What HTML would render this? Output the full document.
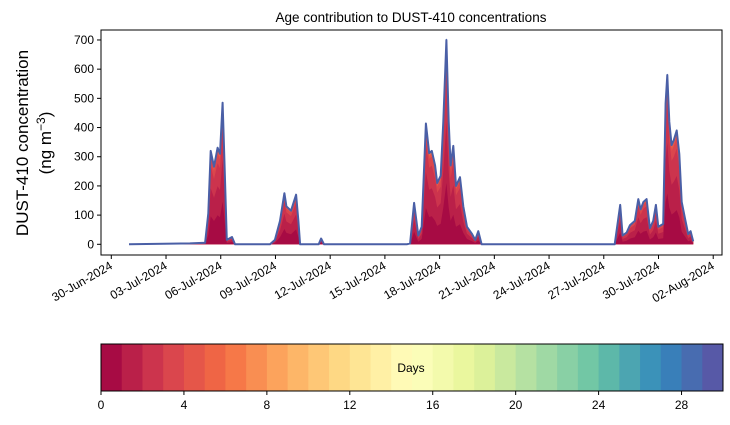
<!DOCTYPE html>
<html><head><meta charset="utf-8"><style>
body{margin:0;background:#fff;}
svg{display:block;font-family:"Liberation Sans","DejaVu Sans",sans-serif;}
</style></head><body>
<svg id="chart" width="730" height="425" viewBox="0 0 730 425"></svg>
<script>
// data: total concentration keypoints (day offset from 30-Jun-2024 00:00, ng m-3)
const days = [0.97,4.31,5.14,5.32,5.45,5.63,5.83,5.96,6.1,6.2,6.33,6.62,6.78,8.7,8.97,9.25,9.49,9.6,9.85,10.13,10.26,10.35,11.37,11.5,11.66,16.2,16.38,16.6,16.83,17.02,17.25,17.43,17.57,17.75,17.87,18.06,18.2,18.37,18.5,18.6,18.75,18.9,19.12,19.3,19.5,19.78,19.95,20.12,20.3,27.6,27.9,28.03,28.25,28.43,28.7,28.89,29.02,29.17,29.35,29.53,29.71,29.86,29.99,30.26,30.39,30.48,30.59,30.72,30.84,31.0,31.14,31.27,31.45,31.63,31.76,31.9];
const totals = [0,3,5,106,320,266,331,310,485,290,15,25,0,0,15,80,175,130,115,170,80,0,0,20,0,0,3,142,30,60,414,312,320,270,210,235,420,700,420,270,337,200,230,130,60,35,15,45,0,0,135,30,40,65,80,155,120,145,155,55,80,135,60,70,483,580,420,340,357,390,310,145,90,35,45,10];
// share of each age bin (days 0..29) in total
const ageShares = [0.3,0.3,0.24,0.1,0.03,0.01,0.005,0.003,0.002,0.001,0.001,0.001,0.001,0.001,0.001,0.001,0.001,0.001,0.001,0.001,0.001,0.001,0.001,0.001,0.001,0.001,0.001,0.001,0.001,0.001];
const yTicks = [0,100,200,300,400,500,600,700];
const xTickDays = [0,3,6,9,12,15,18,21,24,27,30,33];
const xTickLabels = ["30-Jun-2024","03-Jul-2024","06-Jul-2024","09-Jul-2024","12-Jul-2024","15-Jul-2024","18-Jul-2024","21-Jul-2024","24-Jul-2024","27-Jul-2024","30-Jul-2024","02-Aug-2024"];
const cbTicks = [0,4,8,12,16,20,24,28];

const NS="http://www.w3.org/2000/svg";
const svg=document.getElementById('chart');
function mk(t,a,p){const e=document.createElementNS(NS,t);for(const k in a)e.setAttribute(k,a[k]);(p||svg).appendChild(e);return e;}
const L=101,R=722,T=30,B=255;
const xS=d=>111.3+d*18.24;
const yS=v=>244.3-v*0.2919;
const anchors=["#9e0142","#d53e4f","#f46d43","#fdae61","#fee08b","#ffffbf","#e6f598","#abdda4","#66c2a5","#3288bd","#5e4fa2"];
function spec(t){const p=t*10,i=Math.min(9,Math.floor(p)),f=p-i;const a=anchors[i],b=anchors[i+1];
 const c=[1,3,5].map(k=>Math.round(parseInt(a.substr(k,2),16)*(1-f)+parseInt(b.substr(k,2),16)*f));return `rgb(${c.join(',')})`;}

const n=ageShares.length;
const cum=[];let s=0;for(let k=0;k<n;k++){s+=ageShares[k];cum.push(s);}
for(let k=n-1;k>=0;k--){
 let d=`M${xS(days[0])},${yS(0)}`;
 for(let i=0;i<days.length;i++)d+=` L${xS(days[i]).toFixed(1)},${yS(totals[i]*cum[k]).toFixed(1)}`;
 d+=` L${xS(days[days.length-1])},${yS(0)} Z`;
 const p=mk('path',{d:d,fill:spec((k+0.5)/n),stroke:'none'});
 
 
}
let ld='';for(let i=0;i<days.length;i++)ld+=(i?' L':'M')+xS(days[i]).toFixed(1)+','+yS(totals[i]).toFixed(1);
const line=mk('path',{d:ld,fill:'none',stroke:'#4a5fa6','stroke-width':2,'stroke-linejoin':'round'});



const frame=mk('rect',{x:L,y:T,width:R-L,height:B-T,fill:'none',stroke:'#000','stroke-width':1});



yTicks.forEach(v=>{const y=yS(v);
 mk('line',{x1:L-4,x2:L,y1:y,y2:y,stroke:'#000'});
 const t=mk('text',{x:L-7,y:y+4,'text-anchor':'end','font-size':12});t.textContent=v;
 
 });
xTickDays.forEach((d,i)=>{const x=xS(d);
 mk('line',{x1:x,x2:x,y1:B,y2:B+4,stroke:'#000'});
 const t=mk('text',{x:x+2,y:B+13,'text-anchor':'end','font-size':12,transform:`rotate(-30 ${x+2} ${B+13})`});t.textContent=xTickLabels[i];
 
 });

const title=mk('text',{x:411,y:22,'text-anchor':'middle','font-size':13.5});title.textContent='Age contribution to DUST-410 concentrations';


const yl=mk('text',{x:28,y:143,'text-anchor':'middle','font-size':17,transform:'rotate(-90 28 143)'});yl.textContent='DUST-410 concentration';


const yl2=mk('text',{x:51,y:143,'text-anchor':'middle','font-size':17,transform:'rotate(-90 51 143)'});
yl2.innerHTML='(ng m<tspan dy="-6" font-size="12">−3</tspan><tspan dy="6">)</tspan>';



const cL=101,cR=723,cT=344,cB=391;
for(let k=0;k<30;k++){const r=mk('rect',{x:cL+k*(cR-cL)/30,y:cT,width:(cR-cL)/30+0.5,height:cB-cT,fill:spec((k+0.5)/30)});
 
 }
const cf=mk('rect',{x:cL,y:cT,width:cR-cL,height:cB-cT,fill:'none',stroke:'#000'});


cbTicks.forEach(v=>{const x=cL+v*(cR-cL)/30;
 mk('line',{x1:x,x2:x,y1:cB,y2:cB+4,stroke:'#000'});
 const t=mk('text',{x:x,y:cB+18,'text-anchor':'middle','font-size':12});t.textContent=v;
 
 });
const dl=mk('text',{x:411,y:372,'text-anchor':'middle','font-size':12});dl.textContent='Days';


</script>
</body></html>
